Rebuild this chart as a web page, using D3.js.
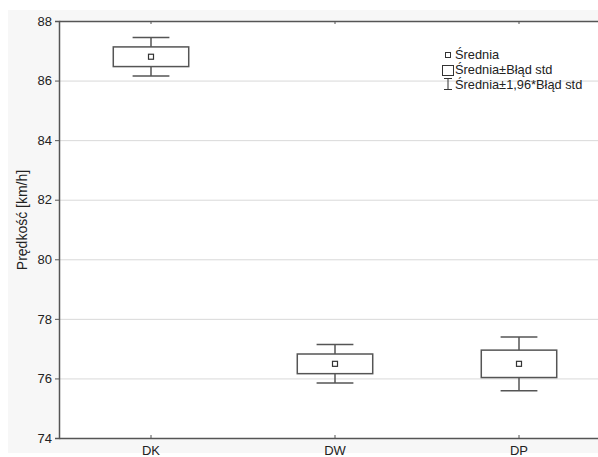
<!DOCTYPE html>
<html>
<head>
<meta charset="utf-8">
<script src="https://cdn.jsdelivr.net/npm/d3@7"></script>
<style>
  body { margin: 0; background: #fff; }
  text { font-family: "Liberation Sans", Arial, sans-serif; fill: #222; }
</style>
</head>
<body>
<div id="chart"></div>
<script>
// data
const categories = ["DK", "DW", "DP"];
const means = [86.80, 76.49, 76.49];
const stdErr = [0.33, 0.33, 0.46];
const yTicks = [74, 76, 78, 80, 82, 84, 86, 88];
const legendLabels = ["Średnia", "Średnia±Błąd std", "Średnia±1,96*Błąd std"];

const width = 598, height = 457;
const margin = {top: 21, left: 59, bottom: 438, right: 611};

const svg = d3.select("#chart").append("svg")
    .attr("width", width)
    .attr("height", height);

// grey panel behind everything
svg.append("rect")
   .attr("x", 8).attr("y", 10)
   .attr("width", width - 8).attr("height", 443)
   .attr("fill", "#f7f7f7");

let x = d3.scaleBand().domain(categories).range([margin.left, margin.right]);
let y = d3.scaleLinear().domain([74, 88]).range([margin.bottom, margin.top]);

// plot area
svg.append("rect")
   .attr("x", margin.left).attr("y", margin.top)
   .attr("width", margin.right - margin.left).attr("height", margin.bottom - margin.top)
   .attr("fill", "#fff");

// GRID
svg.append("g").selectAll("line")
   .data(yTicks.filter(t => t > 74 && t < 88))
   .enter().append("line")
     .attr("x1", margin.left).attr("x2", margin.right)
     .attr("y1", d => y(d) + 0.5).attr("y2", d => y(d) + 0.5)
     .attr("stroke", "#d9d9d9");

// Y AXIS
let yAxis = svg.append("g")
   .attr("transform", "translate(" + margin.left + ",0)")
   .call(d3.axisLeft(y).tickValues(yTicks).tickSize(4).tickPadding(3));
yAxis.selectAll("text").style("font-size", "13px").attr("fill", "#222");
yAxis.select(".domain").attr("stroke", "#555").attr("stroke-width", 1.5);
yAxis.selectAll(".tick line").attr("stroke", "#555");

// X AXIS bottom + top frame
let xAxis = svg.append("g")
   .attr("transform", "translate(0," + margin.bottom + ")")
   .call(d3.axisBottom(x).tickSizeInner(-3).tickSizeOuter(0).tickPadding(8));
xAxis.selectAll("text").style("font-size", "13px").attr("fill", "#222");
xAxis.select(".domain").attr("stroke", "#555").attr("stroke-width", 1.5);
xAxis.selectAll(".tick line").attr("stroke", "#555");

let xTop = svg.append("g")
   .attr("transform", "translate(0," + margin.top + ")")
   .call(d3.axisTop(x).tickSizeInner(-3).tickSizeOuter(0).tickFormat(""));
xTop.select(".domain").attr("stroke", "#555").attr("stroke-width", 1.5);
xTop.selectAll(".tick line").attr("stroke", "#555");

// Y LABEL
svg.append("text")
   .attr("transform", "translate(27,220) rotate(-90)")
   .attr("text-anchor", "middle")
   .style("font-size", "14px")
   .text("Prędkość [km/h]");

// BOXES
let boxW = x.bandwidth() * 0.41, capW = x.bandwidth() * 0.2;
let items = categories.map((c, i) => ({c: c, m: means[i], se: stdErr[i]}));

let g = svg.append("g").selectAll("g.box")
   .data(items).enter().append("g").classed("box", true)
   .attr("transform", d => "translate(" + (x(d.c) + x.bandwidth() / 2) + ",0)");

g.append("line")
   .attr("x1", 0).attr("x2", 0)
   .attr("y1", d => y(d.m + 1.96 * d.se)).attr("y2", d => y(d.m - 1.96 * d.se))
   .attr("stroke", "#555").attr("stroke-width", 1.5);
[1, -1].forEach(s => {
  g.append("line")
     .attr("x1", -capW / 2).attr("x2", capW / 2)
     .attr("y1", d => y(d.m + s * 1.96 * d.se)).attr("y2", d => y(d.m + s * 1.96 * d.se))
     .attr("stroke", "#555").attr("stroke-width", 1.5);
});
g.append("rect")
   .attr("x", -boxW / 2).attr("width", boxW)
   .attr("y", d => y(d.m + d.se)).attr("height", d => y(d.m - d.se) - y(d.m + d.se))
   .attr("fill", "#fff").attr("stroke", "#555").attr("stroke-width", 1.5);
g.append("rect")
   .attr("x", -2.5).attr("width", 5)
   .attr("y", d => y(d.m) - 2.5).attr("height", 5)
   .attr("fill", "#fff").attr("stroke", "#333").attr("stroke-width", 1.2);

// LEGEND
let lg = svg.append("g").attr("transform", "translate(448,0)");
lg.append("rect").attr("x", -2.5).attr("y", 52.5).attr("width", 5).attr("height", 5)
  .attr("fill", "#fff").attr("stroke", "#333").attr("stroke-width", 1);
lg.append("rect").attr("x", -5.5).attr("y", 65.5).attr("width", 11).attr("height", 10)
  .attr("fill", "#fff").attr("stroke", "#333").attr("stroke-width", 1);
lg.append("path").attr("d", "M-4,78.5H4M0,78.5V89.5M-4,89.5H4")
  .attr("fill", "none").attr("stroke", "#333").attr("stroke-width", 1);
lg.selectAll("text.leg").data(legendLabels).enter().append("text")
  .attr("class", "leg")
  .attr("x", 7).attr("y", (d, i) => 59 + i * 15)
  .style("font-size", "12.8px")
  .text(d => d);
</script>
</body>
</html>
